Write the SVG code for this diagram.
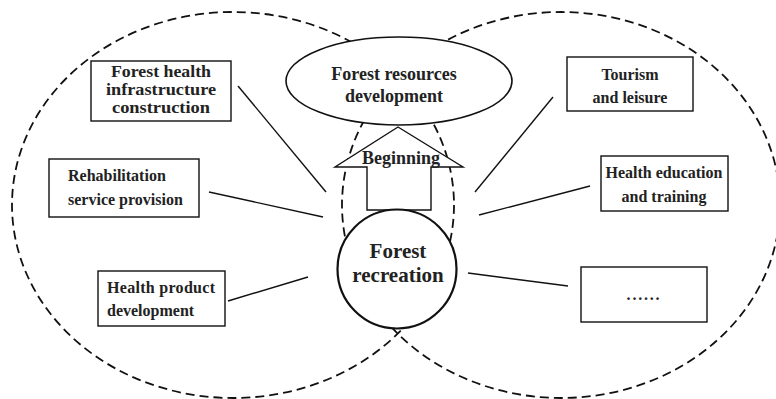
<svg xmlns="http://www.w3.org/2000/svg" width="776" height="399" viewBox="0 0 776 399">
<style>
.region{fill:none;stroke:#111;stroke-width:1.8;stroke-dasharray:9 5}
.box{fill:#fff;stroke:#111;stroke-width:1.4}
.conn{stroke:#111;stroke-width:1.4;fill:none}
text{font-family:"Liberation Serif","Times New Roman",serif;font-weight:bold;fill:#222}
.t16{font-size:16px}
.t17{font-size:17px}
.t18{font-size:18px}
.c{text-anchor:middle}
</style>
<rect width="776" height="399" fill="#fff"/>
<g id="regions">
<ellipse class="region" cx="233" cy="205" rx="221" ry="193"/>
<ellipse class="region" cx="561" cy="205" rx="219" ry="193"/>
</g>
<g id="connectors">
<line class="conn" x1="238" y1="86" x2="326" y2="192"/>
<line class="conn" x1="209" y1="192" x2="323" y2="217"/>
<line class="conn" x1="228" y1="301" x2="308" y2="277"/>
<line class="conn" x1="553" y1="97" x2="475" y2="192"/>
<line class="conn" x1="590" y1="186" x2="479" y2="215"/>
<line class="conn" x1="468" y1="273" x2="568" y2="286"/>
</g>
<g id="forest-resources">
<ellipse cx="399" cy="81" rx="113" ry="44" fill="#fff" stroke="#111" stroke-width="1.6"/>
<text class="t18 c" x="394" y="80">Forest resources</text>
<text class="t18 c" x="394" y="102">development</text>
</g>
<g id="beginning">
<polygon points="398,127 463,167 431,167 431,210 367,210 367,167 335,167" fill="#fff" stroke="#111" stroke-width="1.4"/>
<text class="t18 c" x="401" y="164">Beginning</text>
</g>
<g id="forest-recreation">
<circle cx="397" cy="269" r="59.5" fill="#fff" stroke="#111" stroke-width="2.2"/>
<text class="c" x="398" y="258" style="font-size:21px">Forest</text>
<text class="c" x="398" y="282" style="font-size:21px">recreation</text>
</g>
<g id="infrastructure">
<rect class="box" x="91" y="61" width="140" height="60"/>
<text class="t17 c" x="161" y="77" textLength="100" lengthAdjust="spacingAndGlyphs">Forest health</text>
<text class="t17 c" x="161" y="95" textLength="110" lengthAdjust="spacingAndGlyphs">infrastructure</text>
<text class="t17 c" x="161" y="113" textLength="98" lengthAdjust="spacingAndGlyphs">construction</text>
</g>
<g id="rehabilitation">
<rect class="box" x="49" y="159" width="150" height="58"/>
<text class="t16" x="68" y="181">Rehabilitation</text>
<text class="t16" x="68" y="205">service provision</text>
</g>
<g id="health-product">
<rect class="box" x="98" y="271" width="127" height="55"/>
<text class="t16" x="107" y="293" textLength="108" lengthAdjust="spacing">Health  product</text>
<text class="t16" x="107" y="316">development</text>
</g>
<g id="tourism">
<rect class="box" x="567" y="57" width="126" height="54"/>
<text class="t16 c" x="630" y="80">Tourism</text>
<text class="t16 c" x="630" y="103">and leisure</text>
</g>
<g id="health-education">
<rect class="box" x="601" y="156" width="127" height="55"/>
<text class="t16 c" x="664" y="178">Health education</text>
<text class="t16 c" x="664" y="202">and training</text>
</g>
<g id="more">
<rect class="box" x="581" y="267" width="126" height="55"/>
<text class="t16 c" x="644" y="300" style="letter-spacing:1.8px">......</text>
</g>
</svg>
